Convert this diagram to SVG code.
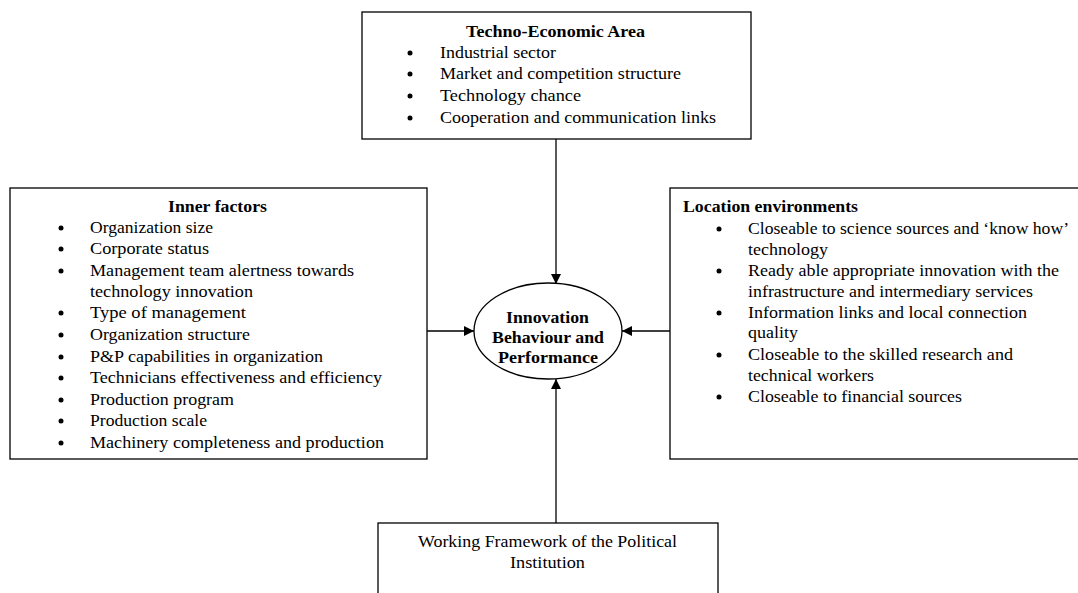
<svg xmlns="http://www.w3.org/2000/svg" width="1078" height="593" viewBox="0 0 1078 593">
  <style>
    .box { fill: #ffffff; stroke: #000000; stroke-width: 1.3; }
    .t { font-family: "Liberation Serif", "Times New Roman", serif; font-size: 16.5px; fill: #000000; }
    .b { font-weight: bold; }
    .m { text-anchor: middle; }
    .dot { fill: #000000; }
    .link { stroke: #000000; stroke-width: 1.3; fill: none; marker-end: url(#arrow); }
  </style>
  <defs>
    <marker id="arrow" viewBox="0 0 10 10" refX="10" refY="5" markerWidth="10" markerHeight="10" markerUnits="userSpaceOnUse" orient="auto">
      <path d="M0,0 L10,5 L0,10 Z" fill="#000000"/>
    </marker>
  </defs>
  <rect width="1078" height="593" fill="#ffffff"/>

  <g id="connectors">
    <line class="link" x1="556" y1="139" x2="556" y2="284"/>
    <line class="link" x1="427" y1="331" x2="474" y2="331"/>
    <line class="link" x1="670" y1="331" x2="622" y2="331"/>
    <line class="link" x1="556" y1="523" x2="556" y2="379"/>
  </g>

  <g id="techno-economic">
    <rect class="box" x="362" y="12" width="389" height="127"/>
    <text class="t b" x="466" y="37" textLength="179" lengthAdjust="spacingAndGlyphs">Techno-Economic Area</text>
    <circle class="dot" cx="410" cy="53" r="2.5"/>
    <circle class="dot" cx="410" cy="74" r="2.5"/>
    <circle class="dot" cx="410" cy="96" r="2.5"/>
    <circle class="dot" cx="410" cy="118" r="2.5"/>
    <text class="t" x="440" y="58" textLength="116" lengthAdjust="spacingAndGlyphs">Industrial sector</text>
    <text class="t" x="440" y="79" textLength="241" lengthAdjust="spacingAndGlyphs">Market and competition structure</text>
    <text class="t" x="440" y="101" textLength="141" lengthAdjust="spacingAndGlyphs">Technology chance</text>
    <text class="t" x="440" y="123" textLength="276" lengthAdjust="spacingAndGlyphs">Cooperation and communication links</text>
  </g>

  <g id="inner-factors">
    <rect class="box" x="10" y="188" width="417" height="271"/>
    <text class="t b" x="168" y="212" textLength="99" lengthAdjust="spacingAndGlyphs">Inner factors</text>
    <circle class="dot" cx="61" cy="228" r="2.5"/>
    <circle class="dot" cx="61" cy="249" r="2.5"/>
    <circle class="dot" cx="61" cy="271" r="2.5"/>
    <circle class="dot" cx="61" cy="313" r="2.5"/>
    <circle class="dot" cx="61" cy="335" r="2.5"/>
    <circle class="dot" cx="61" cy="357" r="2.5"/>
    <circle class="dot" cx="61" cy="378" r="2.5"/>
    <circle class="dot" cx="61" cy="400" r="2.5"/>
    <circle class="dot" cx="61" cy="421" r="2.5"/>
    <circle class="dot" cx="61" cy="443" r="2.5"/>
    <text class="t" x="90" y="233" textLength="123" lengthAdjust="spacingAndGlyphs">Organization size</text>
    <text class="t" x="90" y="254" textLength="119" lengthAdjust="spacingAndGlyphs">Corporate status</text>
    <text class="t" x="90" y="276" textLength="264" lengthAdjust="spacingAndGlyphs">Management team alertness towards</text>
    <text class="t" x="90" y="297" textLength="163" lengthAdjust="spacingAndGlyphs">technology innovation</text>
    <text class="t" x="90" y="318" textLength="156" lengthAdjust="spacingAndGlyphs">Type of management</text>
    <text class="t" x="90" y="340" textLength="160" lengthAdjust="spacingAndGlyphs">Organization structure</text>
    <text class="t" x="90" y="362" textLength="233" lengthAdjust="spacingAndGlyphs">P&amp;P capabilities in organization</text>
    <text class="t" x="90" y="383" textLength="292" lengthAdjust="spacingAndGlyphs">Technicians effectiveness and efficiency</text>
    <text class="t" x="90" y="405" textLength="144" lengthAdjust="spacingAndGlyphs">Production program</text>
    <text class="t" x="90" y="426" textLength="117" lengthAdjust="spacingAndGlyphs">Production scale</text>
    <text class="t" x="90" y="448" textLength="294" lengthAdjust="spacingAndGlyphs">Machinery completeness and production</text>
  </g>

  <g id="location-environments">
    <rect class="box" x="670" y="188" width="420" height="271"/>
    <text class="t b" x="683" y="212" textLength="175" lengthAdjust="spacingAndGlyphs">Location environments</text>
    <circle class="dot" cx="719" cy="229" r="2.5"/>
    <circle class="dot" cx="719" cy="271" r="2.5"/>
    <circle class="dot" cx="719" cy="313" r="2.5"/>
    <circle class="dot" cx="719" cy="355" r="2.5"/>
    <circle class="dot" cx="719" cy="397" r="2.5"/>
    <text class="t" x="748" y="234" textLength="321" lengthAdjust="spacingAndGlyphs">Closeable to science sources and ‘know how’</text>
    <text class="t" x="748" y="255" textLength="80" lengthAdjust="spacingAndGlyphs">technology</text>
    <text class="t" x="748" y="276" textLength="311" lengthAdjust="spacingAndGlyphs">Ready able appropriate innovation with the</text>
    <text class="t" x="748" y="297" textLength="285" lengthAdjust="spacingAndGlyphs">infrastructure and intermediary services</text>
    <text class="t" x="748" y="318" textLength="279" lengthAdjust="spacingAndGlyphs">Information links and local connection</text>
    <text class="t" x="748" y="338" textLength="50" lengthAdjust="spacingAndGlyphs">quality</text>
    <text class="t" x="748" y="360" textLength="265" lengthAdjust="spacingAndGlyphs">Closeable to the skilled research and</text>
    <text class="t" x="748" y="381" textLength="126" lengthAdjust="spacingAndGlyphs">technical workers</text>
    <text class="t" x="748" y="402" textLength="214" lengthAdjust="spacingAndGlyphs">Closeable to financial sources</text>
  </g>

  <g id="innovation">
    <ellipse class="box" cx="548" cy="331" rx="74" ry="48"/>
    <text class="t b" x="506" y="323" textLength="83" lengthAdjust="spacingAndGlyphs">Innovation</text>
    <text class="t b" x="492" y="343" textLength="112" lengthAdjust="spacingAndGlyphs">Behaviour and</text>
    <text class="t b" x="498" y="363" textLength="100" lengthAdjust="spacingAndGlyphs">Performance</text>
  </g>

  <g id="political-framework">
    <rect class="box" x="378" y="523" width="340" height="80"/>
    <text class="t" x="418" y="547" textLength="259" lengthAdjust="spacingAndGlyphs">Working Framework of the Political</text>
    <text class="t" x="510" y="568" textLength="75" lengthAdjust="spacingAndGlyphs">Institution</text>
  </g>
</svg>
